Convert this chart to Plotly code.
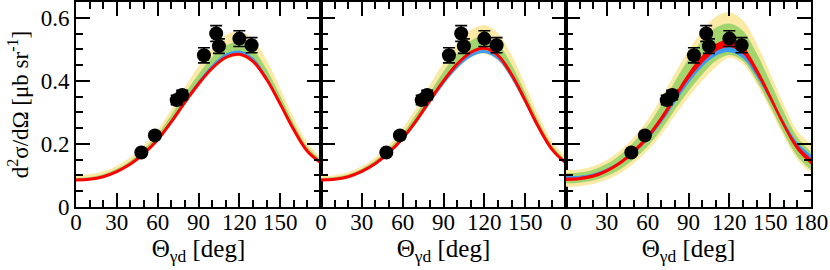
import plotly.graph_objects as go

# ---------------- data ----------------
theta = [0, 10, 20, 30, 40, 50, 60, 70, 80, 90, 100, 110, 120, 130, 140, 150, 160, 170, 180]

# experimental points (same in every panel)
exp_theta = [48, 58, 74, 78, 94, 103, 105, 120, 129]
exp_val = [0.173, 0.227, 0.339, 0.355, 0.481, 0.550, 0.510, 0.534, 0.513]
exp_err = [0.008, 0.010, 0.015, 0.015, 0.024, 0.025, 0.023, 0.025, 0.024]

# panel 1
p1_red = [.086, .088, .096, .112, .136, .170, .213, .270, .332, .390, .440, .474, .484, .462, .405, .327, .245, .177, .140]
p1_blue_lo = [.086, .088, .096, .112, .136, .170, .213, .270, .332, .390, .440, .474, .484, .462, .405, .327, .245, .177, .140]
p1_blue_hi = [.088, .090, .098, .115, .139, .174, .218, .277, .340, .400, .451, .486, .496, .474, .415, .335, .251, .181, .144]
p1_green_lo = [.086, .088, .096, .112, .136, .170, .213, .270, .332, .390, .440, .474, .484, .462, .405, .327, .245, .177, .140]
p1_green_hi = [.093, .095, .104, .121, .147, .184, .230, .292, .359, .421, .475, .512, .523, .499, .437, .353, .265, .191, .151]
p1_yellow_lo = [.085, .087, .095, .110, .134, .167, .210, .266, .327, .384, .433, .467, .477, .455, .399, .322, .241, .174, .138]
p1_yellow_hi = [.102, .104, .113, .131, .158, .196, .244, .309, .380, .446, .504, .545, .557, .531, .466, .376, .282, .204, .158]

# panel 2
p2_red = [.086, .088, .096, .113, .138, .173, .218, .274, .338, .400, .453, .490, .503, .481, .420, .338, .252, .181, .139]
p2_blue_lo = [.083, .085, .093, .110, .134, .168, .211, .266, .328, .388, .439, .475, .488, .467, .407, .328, .244, .176, .135]
p2_blue_hi = [.085, .087, .095, .112, .137, .171, .216, .271, .335, .396, .448, .485, .498, .476, .416, .335, .249, .179, .138]
p2_green_lo = [.085, .087, .095, .112, .137, .171, .216, .271, .335, .396, .448, .485, .498, .476, .416, .335, .249, .179, .138]
p2_green_hi = [.092, .095, .103, .121, .148, .186, .234, .295, .363, .430, .487, .527, .541, .517, .452, .363, .271, .195, .149]
p2_yellow_lo = [.083, .085, .093, .109, .133, .167, .210, .264, .326, .386, .437, .473, .485, .464, .405, .326, .243, .175, .134]
p2_yellow_hi = [.098, .101, .110, .129, .158, .198, .250, .314, .387, .458, .519, .561, .576, .551, .481, .387, .289, .207, .159]

# panel 3
p3_red_lo = [.0825, .0845, .0925, .1095, .135, .170, .214, .271, .338, .404, .456, .493, .507, .485, .422, .339, .252, .179, .135]
p3_red_hi = [.0935, .0955, .1035, .1205, .147, .184, .230, .289, .358, .426, .480, .517, .531, .509, .444, .359, .270, .197, .153]
p3_blue_lo = [.091, .092, .099, .114, .137, .170, .212, .266, .330, .392, .444, .479, .491, .472, .414, .338, .259, .192, .150]
p3_blue_hi = [.098, .099, .106, .122, .146, .180, .224, .280, .345, .408, .459, .495, .507, .488, .430, .353, .273, .205, .165]
p3_green_lo = [.075, .077, .084, .098, .120, .152, .193, .246, .308, .368, .420, .463, .482, .463, .401, .320, .234, .160, .117]
p3_green_hi = [.107, .109, .118, .137, .166, .207, .258, .323, .398, .469, .528, .568, .582, .559, .488, .397, .302, .221, .175]
p3_yellow_lo = [.064, .066, .073, .087, .108, .139, .179, .230, .290, .348, .400, .443, .473, .453, .391, .310, .224, .150, .107]
p3_yellow_hi = [.117, .119, .129, .149, .180, .223, .277, .346, .423, .496, .557, .603, .617, .592, .519, .424, .325, .241, .200]

x_tickvals = [0, 30, 60, 90, 120, 150, 180]
x_ticktext_inner = ["0", "30", "60", "90", "120", "150", ""]
x_ticktext_last = ["0", "30", "60", "90", "120", "150", "180"]
y_tickvals = [0, 0.2, 0.4, 0.6]
y_ticktext = ["0", "0.2", "0.4", "0.6"]

YELLOW = "#FBE9A6"
GREEN = "#A3D56E"
BLUE = "#3A9BF0"
RED = "#FF0000"
FONT = "Liberation Serif"

fig = go.Figure()


def band(lo, hi, color, xa, ya):
    fig.add_trace(go.Scatter(x=theta, y=lo, mode="lines", line=dict(width=0, shape="spline", color=color),
                             xaxis=xa, yaxis=ya, showlegend=False, hoverinfo="skip"))
    fig.add_trace(go.Scatter(x=theta, y=hi, mode="lines", line=dict(width=0, shape="spline", color=color),
                             fill="tonexty", fillcolor=color,
                             xaxis=xa, yaxis=ya, showlegend=False, hoverinfo="skip"))


def points(xa, ya):
    fig.add_trace(go.Scatter(x=exp_theta, y=exp_val, mode="markers",
                             marker=dict(size=14, color="black"),
                             error_y=dict(type="data", array=exp_err, color="black", thickness=1.6, width=6),
                             xaxis=xa, yaxis=ya, showlegend=False))


# panel 1
band(p1_yellow_lo, p1_yellow_hi, YELLOW, "x", "y")
band(p1_green_lo, p1_green_hi, GREEN, "x", "y")
band(p1_blue_lo, p1_blue_hi, BLUE, "x", "y")
fig.add_trace(go.Scatter(x=theta, y=p1_red, mode="lines", line=dict(width=3, shape="spline", color=RED),
                         xaxis="x", yaxis="y", showlegend=False))
points("x", "y")

# panel 2
band(p2_yellow_lo, p2_yellow_hi, YELLOW, "x2", "y2")
band(p2_green_lo, p2_green_hi, GREEN, "x2", "y2")
band(p2_blue_lo, p2_blue_hi, BLUE, "x2", "y2")
fig.add_trace(go.Scatter(x=theta, y=p2_red, mode="lines", line=dict(width=3, shape="spline", color=RED),
                         xaxis="x2", yaxis="y2", showlegend=False))
points("x2", "y2")

# panel 3
band(p3_yellow_lo, p3_yellow_hi, YELLOW, "x3", "y3")
band(p3_green_lo, p3_green_hi, GREEN, "x3", "y3")
band(p3_blue_lo, p3_blue_hi, BLUE, "x3", "y3")
band(p3_red_lo, p3_red_hi, RED, "x3", "y3")
points("x3", "y3")

tickfont = dict(family=FONT, size=23, color="black")
titlefont = dict(family=FONT, size=25, color="black")

common_x = dict(range=[0, 180], tickmode="array", tickvals=x_tickvals, tickangle=0,
                ticks="inside", ticklen=14, tickwidth=2, tickcolor="black",
                showline=True, linewidth=2, linecolor="black", mirror="allticks",
                showgrid=False, zeroline=False, tickfont=tickfont, ticklabelstandoff=-7,
                minor=dict(tick0=0, dtick=10, ticks="inside", ticklen=7, tickwidth=2, tickcolor="black", showgrid=False),
                title=dict(text="Θ<sub>γd</sub> [deg]", font=titlefont, standoff=2))
common_y = dict(range=[0, 0.65], tickmode="array", tickvals=y_tickvals, ticktext=y_ticktext,
                ticks="inside", ticklen=14, tickwidth=2, tickcolor="black",
                showline=True, linewidth=2, linecolor="black", mirror="allticks",
                showgrid=False, zeroline=False, tickfont=tickfont,
                minor=dict(tick0=0, dtick=0.05, ticks="inside", ticklen=7, tickwidth=2, tickcolor="black", showgrid=False))

d = 1 / 3
fig.update_layout(
    width=830, height=270,
    font=dict(family=FONT, color="black"),
    margin=dict(l=76, r=19, t=2, b=63, autoexpand=False),
    paper_bgcolor="white", plot_bgcolor="white",
    xaxis=dict(common_x, domain=[0, d], anchor="y", ticktext=x_ticktext_inner),
    xaxis2=dict(common_x, domain=[d, 2 * d], anchor="y2", ticktext=x_ticktext_inner),
    xaxis3=dict(common_x, domain=[2 * d, 1], anchor="y3", ticktext=x_ticktext_last),
    yaxis=dict(common_y, anchor="x",
               title=dict(text="d<sup>2</sup>σ/dΩ [μb sr<sup>-1</sup>]", font=tickfont, standoff=6)),
    yaxis2=dict(common_y, anchor="x2", matches="y", showticklabels=False),
    yaxis3=dict(common_y, anchor="x3", matches="y", showticklabels=False),
)

fig.write_html("out.html", config={"displayModeBar": False},
               post_script="document.body.style.margin='0px';document.body.style.overflow='hidden';")
